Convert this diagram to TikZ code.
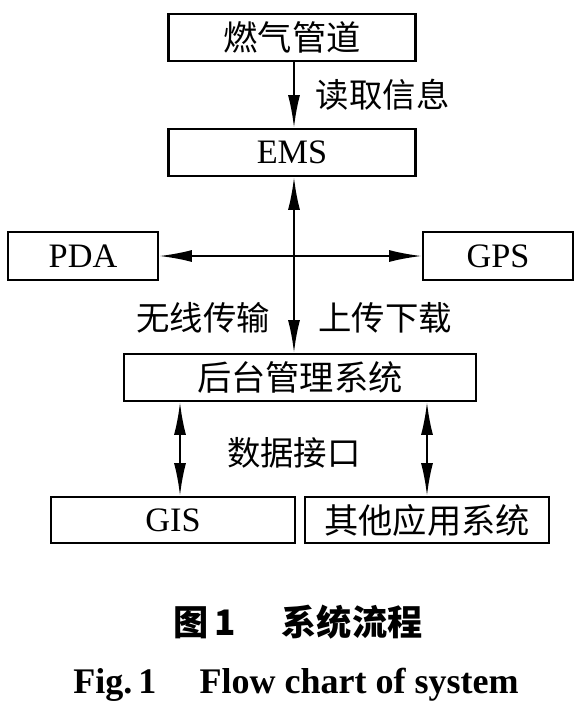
\documentclass[tikz,border=0pt]{standalone}
\usepackage{fontspec}
\setmainfont{Liberation Serif}
\newfontfamily\cjk{Noto Sans CJK SC}
\usetikzlibrary{arrows.meta}
\tikzset{
  >={Latex[length=6.5mm,width=2.4mm]},
  font=\fontsize{19.5}{22}\selectfont,
  blk/.style ={draw, line width=1.6pt, minimum height=9.4mm, inner sep=0pt, align=center},
  arr/.style ={->, line width=1.1pt},
  darr/.style={<->, line width=1.1pt},
  lbl/.style ={inner sep=0pt, font=\fontsize{19}{22}\selectfont\cjk},
}

\begin{document}
\begin{tikzpicture}[x=0.2mm,y=-0.2mm]
  \useasboundingbox (0,0) rectangle (583,709);
  \coordinate (trunk) at (294,0);
  \coordinate (gisx) at (180,0);

  \node[blk, minimum width=49.4mm] (gas) at (292,37.5) {\cjk 燃气管道};
  \node[blk, minimum width=49.4mm] (ems) at (292,152.5) {EMS};
  \node[blk, minimum width=30mm, minimum height=9.6mm] (pda) at (83,256) {PDA};
  \node[blk, minimum width=30mm, minimum height=9.6mm] (gps) at (498,256) {GPS};
  \node[blk, minimum width=70.4mm] (bms) at (300,377.5) {\cjk 后台管理系统};
  \node[blk, minimum width=48.8mm, minimum height=9.2mm] (gis) at (173,520) {GIS};
  \node[blk, minimum width=48.8mm, minimum height=9.2mm] (app) at (427,520) {\cjk 其他应用系统};

  \draw[arr] (gas.south -| trunk) -- node[lbl, anchor=west, xshift=4.2mm]{读取信息} (ems.north -| trunk);
  \draw[darr] (ems.south -| trunk) -- (bms.north -| trunk);
  \draw[darr] (pda.east) -- (gps.west);
  \node[lbl] (wireless) at (203,318) {无线传输};
  \node[lbl] (updown) at (385,318) {上传下载};

  \draw[darr] (bms.south -| gisx) -- (gis.north -| gisx);
  \draw[darr] (bms.south -| app.north) -- (app.north);
  \node[lbl] (iface) at (294,453) {数据接口};

  \node[font=\fontsize{20}{24}\selectfont\cjk\bfseries] (capcn) at (298,622) {图\,1\hspace{1.3em}系统流程};
  \node[font=\fontsize{20.5}{24}\selectfont\bfseries] (capen) at (296,685) {Fig.\,1\hspace{1.2em}Flow chart of system};
\end{tikzpicture}
\end{document}
